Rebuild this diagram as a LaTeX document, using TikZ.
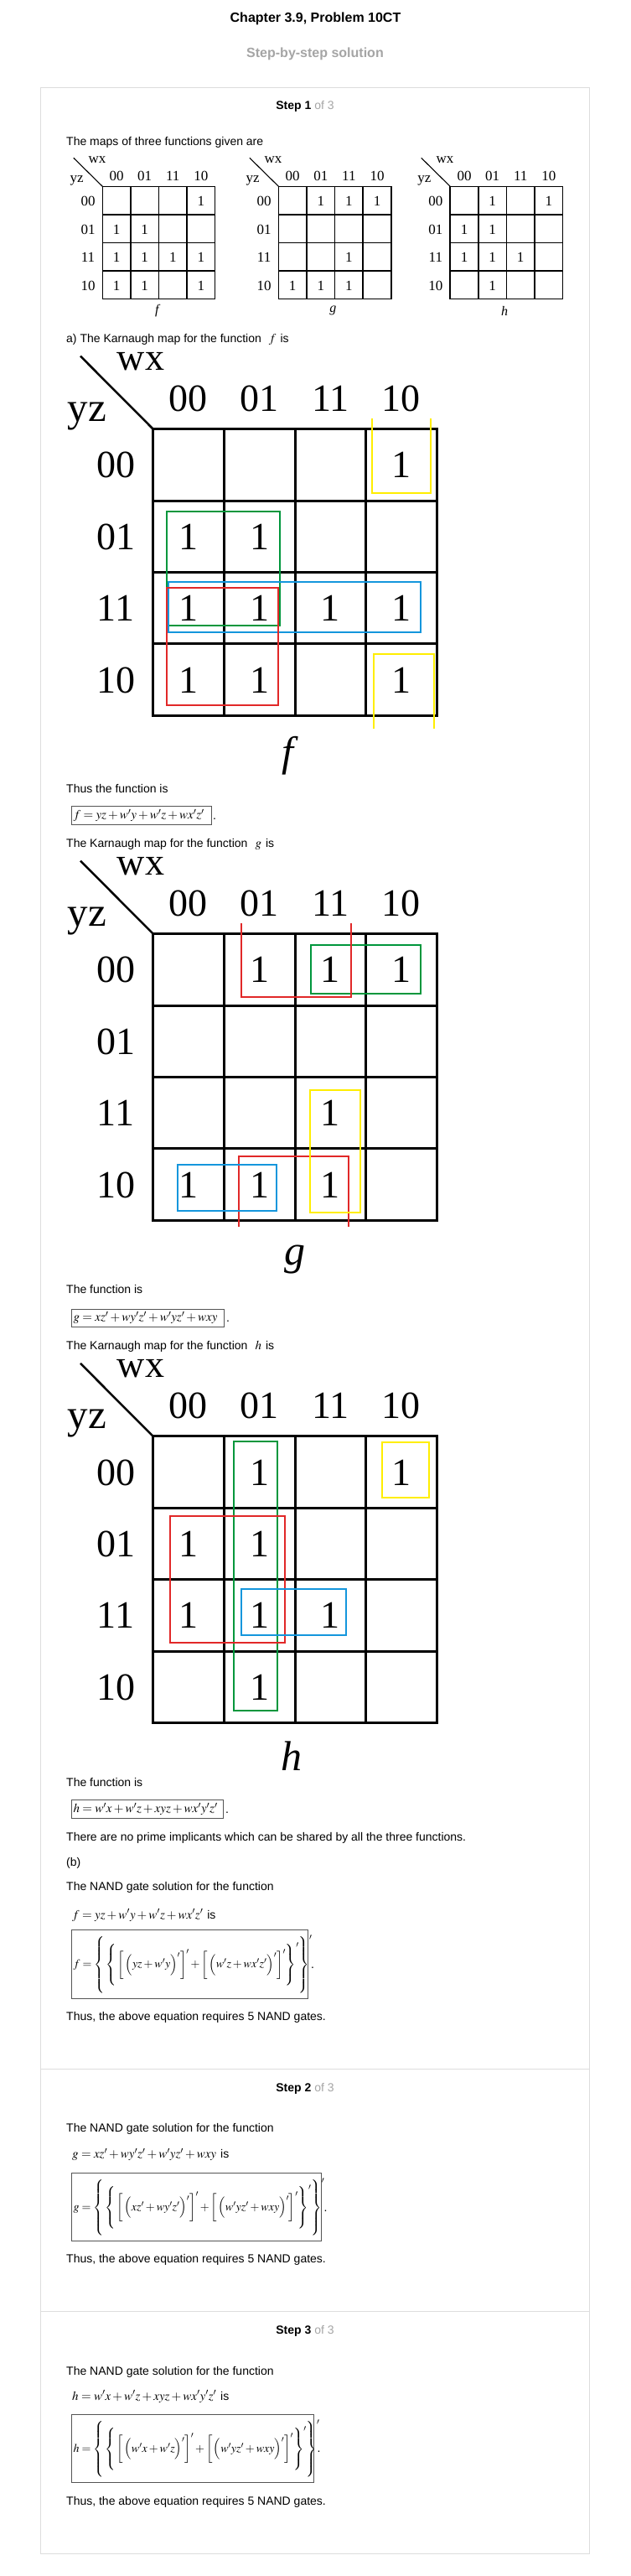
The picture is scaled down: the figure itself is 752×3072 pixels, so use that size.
\documentclass[tikz,border=0pt]{standalone}
\usepackage{mathptmx}
\usepackage[no-math]{fontspec}
\setmainfont{Liberation Sans}
\newfontfamily\tms{Liberation Serif}
\definecolor{ylw}{RGB}{255,238,0}
\definecolor{grn}{RGB}{0,150,60}
\definecolor{blu}{RGB}{20,150,220}
\definecolor{rd}{RGB}{225,40,40}
\definecolor{lgray}{RGB}{221,221,221}
\definecolor{mgray}{RGB}{165,165,165}
\definecolor{eqgray}{RGB}{85,85,85}
\newcommand\dz[1]{\vcenter{\hbox{\vrule height #1 width 0pt}}}
\newcommand\eqf{\fontsize{15}{18}\selectfont}
\newcommand\neqf{\fontsize{14}{17}\selectfont}
\tikzset{
  txt/.style={anchor=base west, inner sep=0pt, font=\fontsize{14}{16}\selectfont},
  steph/.style={anchor=base, inner sep=0pt, font=\fontsize{14}{16}\selectfont},
  bigt/.style={inner sep=0pt, anchor=base, font=\tms\fontsize{46}{50}\selectfont},
  smlt/.style={inner sep=0pt, anchor=base, font=\tms\fontsize{17}{19}\selectfont},
  kgrid/.style={line width=3pt, line cap=rect},
  sgrid/.style={line width=1.5pt, line cap=rect},
  grp/.style={line width=2pt},
  eqbox/.style={draw=eqgray, line width=0.8pt, inner sep=0pt, anchor=west},
  eqtxt/.style={inner sep=0pt, anchor=west, font=\eqf},
  neqtxt/.style={inner sep=0pt, anchor=west, font=\neqf},
  frame/.style={draw=lgray, line width=1pt}
}
\newcommand\bigkmap[3]{%
\begin{scope}[shift={(0,#1)}]
  \foreach \i in {0,...,4} \draw[kgrid] ({182.7+84.65*\i},0) -- ({182.7+84.65*\i},341.6);
  \foreach \j in {0,...,4} \draw[kgrid] (182.7,{85.4*\j}) -- (521.3,{85.4*\j});
  \coordinate (#2dg) at (96,-87);
  \coordinate (#2cr) at (182.7,0);
  \draw[line width=2.5pt] (#2dg) -- (#2cr);
  \node[bigt] (#2wx) at (168,-70.5) {wx};
  \node[bigt, font=\tms\fontsize{49}{52}\selectfont] (#2yz) at (104,-9.5) {yz};
  \foreach \lab [count=\k from 0] in {00,01,11,10}
    \node[bigt] (#2c\k) at ({224.9+84.65*\k},-21) {\lab};
  \foreach \lab [count=\k from 0] in {00,01,11,10}
    \node[bigt] (#2r\k) at (138,{42.7+85.4*\k+15.5}) {\lab};
  \foreach \cc/\rr in {#3}
    \node[bigt] (#2o\cc\rr) at ({224.9+84.65*\cc},{42.7+85.4*\rr+15.5}) {1};
\end{scope}}
\newcommand\smlkmap[4]{%
\begin{scope}[shift={(#1,222.3)}]
  \foreach \i in {0,...,4} \draw[sgrid] ({33.6*\i},0) -- ({33.6*\i},134.4);
  \foreach \j in {0,...,4} \draw[sgrid] (0,{33.6*\j}) -- (134.4,{33.6*\j});
  \coordinate (#2dg) at (-34.5,-34);
  \coordinate (#2cr) at (0,0);
  \draw[line width=1.1pt] (#2dg) -- (#2cr);
  \node[smlt] (#2wx) at (-6.3,-27.3) {wx};
  \node[smlt] (#2yz) at (-30.7,-4.6) {yz};
  \foreach \lab [count=\k from 0] in {00,01,11,10}
    \node[smlt] (#2c\k) at ({16.8+33.6*\k},-7) {\lab};
  \foreach \lab [count=\k from 0] in {00,01,11,10}
    \node[smlt] (#2r\k) at (-17.3,{16.8+33.6*\k+6.3}) {\lab};
  \foreach \cc/\rr in {#3}
    \node[smlt] (#2o\cc\rr) at ({16.8+33.6*\cc},{16.8+33.6*\rr+6.3}) {1};
  \node[inner sep=0pt, font=\tms\itshape\fontsize{16}{18}\selectfont] (#2lab) at (65,148.5) {#4};
\end{scope}}
\begin{document}
\begin{tikzpicture}[x=1pt,y=-1pt]
\useasboundingbox (0,0) rectangle (752,3072);
\fill[white] (0,0) rectangle (752,3072);
% header
\node[anchor=base, inner sep=0pt, font=\bfseries\fontsize{16}{18}\selectfont] (title) at (376.5,26.5) {Chapter 3.9, Problem 10CT};
\node[anchor=base, inner sep=0pt, text=mgray, font=\bfseries\fontsize{16}{18}\selectfont] (sbs) at (376,69) {Step-by-step solution};
% frame
\node[frame, inner sep=0pt, minimum width=655pt, minimum height=2940.7pt, anchor=north west] (frm) at (48,104.3) {};
\coordinate (d1l) at (48,2467.7); \coordinate (d1r) at (703,2467.7);
\coordinate (d2l) at (48,2756.7); \coordinate (d2r) at (703,2756.7);
\draw[draw=lgray, line width=1pt] (d1l) -- (d1r);
\draw[draw=lgray, line width=1pt] (d2l) -- (d2r);
% step 1
\node[steph] (s1) at (364,130.5) {\textbf{Step 1} \textcolor{mgray}{of 3}};
\node[txt] (t1) at (79,173.3) {The maps of three functions given are};
\smlkmap{122.3}{sf}{3/0,0/1,1/1,0/2,1/2,2/2,3/2,0/3,1/3,3/3}{f}
\smlkmap{332.4}{sg}{1/0,2/0,3/0,2/2,0/3,1/3,2/3}{g}
\smlkmap{537.2}{sh}{1/0,3/0,0/1,1/1,0/2,1/2,2/2,1/3}{h}
\node[txt] (t2) at (79,408.7) {a) The Karnaugh map for the function\hspace{9pt}{\eqf$f$}\hspace{5pt}is};
% big f map
\bigkmap{511.7}{bf}{3/0,0/1,1/1,0/2,1/2,2/2,3/2,0/3,1/3,3/3}
\draw[grp, draw=ylw] (443.6,498.6) -- (443.6,588.4) -- (514.1,588.4) -- (514.1,498.6);
\draw[grp, draw=ylw] (446,869) -- (446,780) -- (518,780) -- (518,869);
\draw[grp, draw=grn] (199,610) rectangle (334.3,745.8);
\draw[grp, draw=blu] (200.5,694.4) rectangle (501.7,753.7);
\draw[grp, draw=rd] (199,701) rectangle (332,841.4);
\node[inner sep=0pt, font=\tms\itshape\fontsize{50}{54}\selectfont] (bflab) at (343,901) {f};
\node[txt] (t3) at (79,945) {Thus the function is};
\node[eqbox, minimum width=166.4pt, minimum height=21.6pt] (fbx) at (85.4,972.5) {};
\node[eqtxt] (feq) at ([xshift=2pt]fbx.west) {$f=yz+w'y+w'z+wx'z'$};
\node[txt] (fdot) at (254,977) {.};
% big g map
\node[txt] (t4) at (79,1010.4) {The Karnaugh map for the function\hspace{9pt}{\eqf$g$}\hspace{5pt}is};
\bigkmap{1113.6}{bg}{1/0,2/0,3/0,2/2,0/3,1/3,2/3}
\draw[grp, draw=grn] (370.7,1126.8) rectangle (502.2,1185);
\draw[grp, draw=rd] (287.8,1101) -- (287.8,1189.3) -- (418.7,1189.3) -- (418.7,1101);
\draw[grp, draw=rd] (285.4,1463.2) -- (285.4,1378.6) -- (415.8,1378.6) -- (415.8,1463.2);
\draw[grp, draw=ylw] (370.3,1300) rectangle (430.2,1445.7);
\draw[grp, draw=blu] (211.5,1389.3) rectangle (330,1444);
\node[inner sep=0pt, font=\tms\itshape\fontsize{50}{54}\selectfont] (bglab) at (351.6,1502) {g};
\node[txt] (t5) at (79,1542.5) {The function is};
\node[eqbox, minimum width=181.6pt, minimum height=21pt] (gbx) at (85.4,1571.5) {};
\node[eqtxt] (geq) at ([xshift=2pt]gbx.west) {$g=xz'+wy'z'+w'yz'+wxy$};
\node[txt] (gdot) at (270,1576) {.};
% big h map
\node[txt] (t6) at (79,1609.6) {The Karnaugh map for the function\hspace{9pt}{\eqf$h$}\hspace{5pt}is};
\bigkmap{1712.9}{bh}{1/0,3/0,0/1,1/1,0/2,1/2,2/2,1/3}
\draw[grp, draw=grn] (279,1719) rectangle (330.5,2039.6);
\draw[grp, draw=ylw] (455.6,1720) rectangle (512.2,1786);
\draw[grp, draw=rd] (202.9,1807.5) rectangle (339.6,1959.3);
\draw[grp, draw=blu] (287.8,1895) rectangle (412.5,1950.4);
\node[inner sep=0pt, font=\tms\itshape\fontsize{50}{54}\selectfont] (bhlab) at (347.7,2094) {h};
\node[txt] (t7) at (79,2130) {The function is};
\node[eqbox, minimum width=180.8pt, minimum height=21.6pt] (hbx) at (85.4,2157.5) {};
\node[eqtxt] (heq) at ([xshift=2pt]hbx.west) {$h=w'x+w'z+xyz+wx'y'z'$};
\node[txt] (hdot) at (269,2162) {.};
\node[txt] (t8) at (79,2195.7) {There are no prime implicants which can be shared by all the three functions.};
\node[txt] (t9) at (79,2225.7) {(b)};
\node[txt] (t10) at (79,2254) {The NAND gate solution for the function};
\node[txt] (t11) at (86,2288) {{\eqf$f=yz+w'y+w'z+wx'z'$}\hspace{5pt}is};
\node[eqbox, minimum width=281.9pt, minimum height=81.6pt] (fnb) at (85.4,2342.5) {};
\node[neqtxt] (fneq) at ([xshift=2pt]fnb.west) {$f=\left\{\dz{66pt}\left\{\dz{50pt}\left[\dz{34pt}\left(\dz{19pt}yz+w'y\right)'\right]'+\left[\dz{34pt}\left(\dz{19pt}w'z+wx'z'\right)'\right]'\right\}'\right\}'$};
\node[txt] (fndot) at (371,2347) {.};
\node[txt] (t12) at (79,2409) {Thus, the above equation requires 5 NAND gates.};
% step 2
\node[steph] (s2) at (364,2494) {\textbf{Step 2} \textcolor{mgray}{of 3}};
\node[txt] (t13) at (79,2542.7) {The NAND gate solution for the function};
\node[txt] (t14) at (86,2573.5) {{\eqf$g=xz'+wy'z'+w'yz'+wxy$}\hspace{5pt}is};
\node[eqbox, minimum width=297.3pt, minimum height=80.6pt] (gnb) at (85.4,2632) {};
\node[neqtxt] (gneq) at ([xshift=2pt]gnb.west) {$g=\left\{\dz{66pt}\left\{\dz{50pt}\left[\dz{34pt}\left(\dz{19pt}xz'+wy'z'\right)'\right]'+\left[\dz{34pt}\left(\dz{19pt}w'yz'+wxy\right)'\right]'\right\}'\right\}'$};
\node[txt] (gndot) at (386.5,2637) {.};
\node[txt] (t15) at (79,2698.3) {Thus, the above equation requires 5 NAND gates.};
% step 3
\node[steph] (s3) at (364,2783.3) {\textbf{Step 3} \textcolor{mgray}{of 3}};
\node[txt] (t16) at (79,2832.3) {The NAND gate solution for the function};
\node[txt] (t17) at (86,2862) {{\eqf$h=w'x+w'z+xyz+wx'y'z'$}\hspace{5pt}is};
\node[eqbox, minimum width=288.6pt, minimum height=81pt] (hnb) at (85.4,2919.8) {};
\node[neqtxt] (hneq) at ([xshift=2pt]hnb.west) {$h=\left\{\dz{66pt}\left\{\dz{50pt}\left[\dz{34pt}\left(\dz{19pt}w'x+w'z\right)'\right]'+\left[\dz{34pt}\left(\dz{19pt}w'yz'+wxy\right)'\right]'\right\}'\right\}'$};
\node[txt] (hndot) at (378.5,2924) {.};
\node[txt] (t18) at (79,2987.3) {Thus, the above equation requires 5 NAND gates.};
\end{tikzpicture}
\end{document}
